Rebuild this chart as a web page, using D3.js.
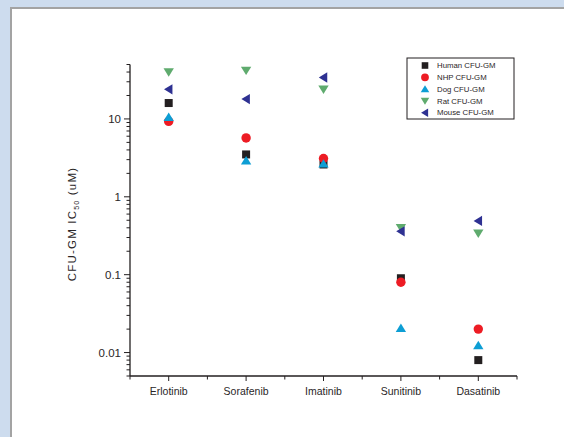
<!DOCTYPE html>
<html lang="en">
<head>
<meta charset="UTF-8">
<title>CFU-GM IC50</title>
<script src="https://d3js.org/d3.v7.min.js"></script>
<style>
  body { margin: 0; background: #cddcee; }
  svg { display: block; }
  text { font-family: "Liberation Sans", Arial, sans-serif; fill: #2a2627; }
</style>
</head>
<body>
<script>
// drugs on the x axis
const drugs = ["Erlotinib", "Sorafenib", "Imatinib", "Sunitinib", "Dasatinib"]
// IC50 values (uM) per species, same order as drugs
const human = [16, 3.5, 2.6, 0.09, 0.008]
const nhp = [9.3, 5.7, 3.1, 0.08, 0.02]
const dog = [10.5, 2.9, 2.65, 0.0205, 0.0123]
const rat = [40, 42, 24, 0.4, 0.34]
const mouse = [24, 18, 34, 0.36, 0.49]
const yTicks = [0.01, 0.1, 1, 10]

const series = [
  { name: "Human CFU-GM", values: human, shape: "square", color: "#231f20" },
  { name: "NHP CFU-GM", values: nhp, shape: "circle", color: "#ed1c24" },
  { name: "Dog CFU-GM", values: dog, shape: "up", color: "#0d9ed4" },
  { name: "Rat CFU-GM", values: rat, shape: "down", color: "#5fab6e" },
  { name: "Mouse CFU-GM", values: mouse, shape: "left", color: "#2e3192" }
]

const W = 564, H = 437
const svg = d3.select("body").append("svg").attr("width", W).attr("height", H)

// white panel with grey edge
svg.append("rect").attr("x", 11).attr("y", 8).attr("width", W).attr("height", H)
  .attr("fill", "#fff").attr("stroke", "#a3a3a3").attr("stroke-width", 2)

const x = d3.scaleLinear().domain([0.5, 5.5]).range([130, 517])
const y = d3.scaleLog().domain([0.005, 50]).range([376, 64.5])

// symbol path, size s = half width
function shapePath(shape, s) {
  if (shape === "square") return `M${-s},${-s}H${s}V${s}H${-s}Z`
  if (shape === "circle") return `M${-s},0A${s},${s} 0 1,0 ${s},0A${s},${s} 0 1,0 ${-s},0Z`
  if (shape === "up") return `M0,${-s}L${s * 1.1},${s * 0.8}L${-s * 1.1},${s * 0.8}Z`
  if (shape === "down") return `M0,${s}L${s * 1.1},${-s * 0.8}L${-s * 1.1},${-s * 0.8}Z`
  return `M${-s},0L${s * 0.8},${-s * 1.1}L${s * 0.8},${s * 1.1}Z`
}

// y axis with log minor ticks
const minor = []
for (let e = -3; e <= 1; e++) {
  for (let m = 1; m <= 9; m++) {
    const v = m * Math.pow(10, e)
    if (v >= 0.005 && v <= 50.001) minor.push(v)
  }
}
const yAxis = svg.append("g").attr("transform", "translate(130,0)")
yAxis.append("line").attr("y1", y(50)).attr("y2", y(0.005)).attr("stroke", "#231f20").attr("stroke-width", 1.3)
yAxis.selectAll(".minor").data(minor).join("line")
  .attr("x1", 0).attr("x2", d => yTicks.includes(d) ? -6 : -3.5)
  .attr("y1", d => y(d)).attr("y2", d => y(d))
  .attr("stroke", "#231f20").attr("stroke-width", 1)
yAxis.selectAll(".lab").data(yTicks).join("text")
  .attr("x", -9).attr("y", d => y(d)).attr("dy", "0.35em")
  .attr("text-anchor", "end").attr("font-size", 11.5)
  .text(d => d)

// x axis
const xAxis = svg.append("g").attr("transform", "translate(0,376)")
xAxis.append("line").attr("x1", 130).attr("x2", 517).attr("stroke", "#231f20").attr("stroke-width", 1.3)
const xTickVals = d3.range(0.5, 5.51, 0.5)
xAxis.selectAll(".tk").data(xTickVals).join("line")
  .attr("x1", d => x(d)).attr("x2", d => x(d))
  .attr("y1", 0).attr("y2", d => Number.isInteger(d) ? 5 : 3.5)
  .attr("stroke", "#231f20").attr("stroke-width", 1)
xAxis.selectAll(".lab").data(drugs).join("text")
  .attr("x", (d, i) => x(i + 1)).attr("y", 19)
  .attr("text-anchor", "middle").attr("font-size", 10.5)
  .text(d => d)

// y label
const yl = svg.append("text")
  .attr("transform", "translate(76,224) rotate(-90)")
  .attr("text-anchor", "middle").attr("font-size", 11.5).attr("letter-spacing", 1.2)
yl.append("tspan").text("CFU-GM IC")
yl.append("tspan").attr("font-size", 7).attr("dy", 3).text("50")
yl.append("tspan").attr("dy", -3).text(" (uM)")

// points, drawn in series order
series.forEach(s => {
  svg.append("g").selectAll("path").data(s.values).join("path")
    .attr("transform", (d, i) => `translate(${x(i + 1)},${y(d)})`)
    .attr("d", shapePath(s.shape, s.shape === "square" ? 4 : 4.7))
    .attr("fill", s.color)
})

// legend
const lg = svg.append("g").attr("transform", "translate(407,58)")
lg.append("rect").attr("width", 107).attr("height", 61)
  .attr("fill", "#fff").attr("stroke", "#231f20").attr("stroke-width", 1)
series.forEach((s, i) => {
  const yy = 7.5 + i * 11.8
  lg.append("path").attr("transform", `translate(18,${yy})`)
    .attr("d", shapePath(s.shape, s.shape === "square" ? 3.3 : 3.9))
    .attr("fill", s.color)
  lg.append("text").attr("x", 30).attr("y", yy).attr("dy", "0.35em")
    .attr("font-size", 7.8).text(s.name)
})
</script>
</body>
</html>
